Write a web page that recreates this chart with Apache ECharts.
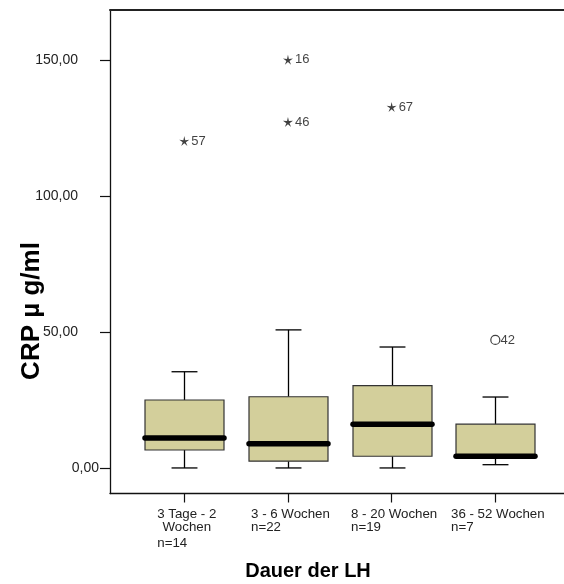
<!DOCTYPE html>
<html>
<head>
<meta charset="utf-8">
<script src="https://cdn.jsdelivr.net/npm/echarts@6/dist/echarts.min.js"></script>
<style>
html,body{margin:0;padding:0;background:#fff;}
#chart{width:564px;height:584px;}
</style>
</head>
<body>
<div id="chart"></div>
<script>
// ---- data ----
var categories = ['3 Tage - 2 Wochen', '3 - 6 Wochen', '8 - 20 Wochen', '36 - 52 Wochen'];
var counts = [14, 22, 19, 7];
var mins    = [0,    0,    0,    1.2];
var q1s     = [6.6,  2.5,  4.3,  4.2];
var medians = [11.0, 8.9,  16.1, 4.3];
var q3s     = [25.0, 26.2, 30.3, 16.1];
var maxs    = [35.4, 50.8, 44.5, 26.1];
// outliers (circle)
var outlierCats   = [4];
var outlierValues = [47.1];
var outlierIds    = ['42'];
// extremes (star)
var extremeCats   = [1, 2, 2, 3];
var extremeValues = [120.3, 150.2, 127.3, 132.8];
var extremeIds    = ['57', '16', '46', '67'];
var yTicks = [0, 50, 100, 150];

// ---- styling ----
var FONT = '"Liberation Sans", Arial, Helvetica, sans-serif';
var BOX_W = 0.762;
var CAP_W = 0.25;
var STAR = 'path://M10 0 L11.8 7.5 L19.51 6.91 L13 11.2 L15.88 18.09 L10 13.2 L4.12 18.09 L7 11.2 L0.51 6.91 L8.2 7.5 Z';

function fmtNum(v) { return v.toFixed(2).replace('.', ','); }

var boxData = categories.map(function (c, i) {
  return [i + 1, mins[i], q1s[i], medians[i], q3s[i], maxs[i]];
});
var outlierData = outlierCats.map(function (c, i) { return [c, outlierValues[i], outlierIds[i]]; });
var extremeData = extremeCats.map(function (c, i) { return [c, extremeValues[i], extremeIds[i]]; });

function renderBox(params, api) {
  var x = api.value(0);
  var lo = api.coord([x, api.value(1)]);
  var q1 = api.coord([x, api.value(2)]);
  var med = api.coord([x, api.value(3)]);
  var q3 = api.coord([x, api.value(4)]);
  var hi = api.coord([x, api.value(5)]);
  var bw = api.size([BOX_W, 0])[0];
  var cw = api.size([CAP_W, 0])[0];
  var cx = Math.round(lo[0]) + 0.5;
  var lineStyle = { stroke: '#000', lineWidth: 1.3 };
  return {
    type: 'group',
    children: [
      { type: 'line', shape: { x1: cx, y1: hi[1], x2: cx, y2: q3[1] }, style: lineStyle },
      { type: 'line', shape: { x1: cx, y1: q1[1], x2: cx, y2: lo[1] }, style: lineStyle },
      { type: 'line', shape: { x1: cx - cw / 2, y1: hi[1], x2: cx + cw / 2, y2: hi[1] }, style: lineStyle },
      { type: 'line', shape: { x1: cx - cw / 2, y1: lo[1], x2: cx + cw / 2, y2: lo[1] }, style: lineStyle },
      { type: 'rect', shape: { x: cx - bw / 2, y: q3[1], width: bw, height: q1[1] - q3[1] },
        style: { fill: '#D3CF9B', stroke: '#333', lineWidth: 1.2 } },
      { type: 'line', shape: { x1: cx - bw / 2, y1: med[1], x2: cx + bw / 2, y2: med[1] },
        style: { stroke: '#000', lineWidth: 5.5, lineCap: 'round' } }
    ]
  };
}

var chart = echarts.init(document.getElementById('chart'), null, { renderer: 'canvas' });
chart.setOption({
  animation: false,
  backgroundColor: '#fff',
  textStyle: { fontFamily: FONT },
  grid: { left: 110, right: 0, top: 10, bottom: 90.5, containLabel: false },
  xAxis: [{
    type: 'value',
    min: 0.2833, max: 4.6626,
    splitLine: { show: false },
    axisLine: { show: true, onZero: false, lineStyle: { color: '#111', width: 1.3 } },
    axisTick: { show: true, length: 9, customValues: [1, 2, 3, 4], lineStyle: { color: '#111', width: 1.2 } },
    axisLabel: {
      show: true,
      customValues: [1, 2, 3, 4],
      margin: 14,
      padding: [0, 0, 0, 5],
      color: '#222',
      fontFamily: FONT,
      fontSize: 13.3,
      formatter: function (v) {
        var i = Math.round(v) - 1;
        if (i === 0) {
          return '{c|3 Tage - 2}\n{c|Wochen}\n{n|n=' + counts[i] + '}';
        }
        return '{l|' + categories[i] + '}\n{l|n=' + counts[i] + '}';
      },
      rich: {
        c: { align: 'center', fontSize: 13.3, lineHeight: 13, color: '#222', fontFamily: FONT },
        l: { align: 'left', fontSize: 13.3, lineHeight: 13, color: '#222', fontFamily: FONT },
        n: { align: 'left', fontSize: 13.3, lineHeight: 19, color: '#222', fontFamily: FONT }
      }
    }
  }, {
    type: 'value',
    position: 'top',
    min: 0.2833, max: 4.6626,
    splitLine: { show: false },
    axisLine: { show: true, onZero: false, lineStyle: { color: '#222', width: 2 } },
    axisTick: { show: false },
    axisLabel: { show: false }
  }],
  yAxis: {
    type: 'value',
    min: -9.4, max: 168.5,
    splitLine: { show: false },
    axisLine: { show: true, onZero: false, lineStyle: { color: '#111', width: 1.3 } },
    axisTick: { show: true, length: 10, customValues: yTicks, lineStyle: { color: '#111', width: 1.2 } },
    axisLabel: {
      show: true,
      customValues: yTicks,
      margin: 11,
      color: '#222',
      fontFamily: FONT,
      fontSize: 14,
      formatter: function (v) {
        if (v === 0) return '{z|' + fmtNum(v) + '}';
        return '{p|' + fmtNum(v) + '}';
      },
      rich: {
        z: { fontSize: 14, color: '#222', fontFamily: FONT },
        p: { fontSize: 14, color: '#222', fontFamily: FONT, padding: [0, 21, 0, 0] }
      }
    }
  },
  graphic: [
    {
      type: 'text',
      x: 32, y: 311,
      rotation: Math.PI / 2,
      style: {
        text: 'CRP \u00B5 g/ml',
        font: 'bold 26px ' + FONT,
        fill: '#000',
        align: 'center',
        verticalAlign: 'middle'
      }
    },
    {
      type: 'text',
      x: 308, y: 571,
      style: {
        text: 'Dauer der LH',
        font: 'bold 20px ' + FONT,
        fill: '#000',
        align: 'center',
        verticalAlign: 'middle'
      }
    }
  ],
  series: [
    {
      type: 'custom',
      renderItem: renderBox,
      data: boxData,
      encode: { x: 0, y: [1, 2, 3, 4, 5] },
      clip: false,
      z: 2
    },
    {
      type: 'scatter',
      data: outlierData,
      symbol: 'circle',
      symbolSize: 9,
      itemStyle: { color: '#fff', borderColor: '#111', borderWidth: 1.2 },
      label: {
        show: true, position: 'right', distance: 0,
        formatter: function (p) { return p.value[2]; },
        color: '#111', fontSize: 13, fontFamily: FONT
      },
      z: 3
    },
    {
      type: 'scatter',
      data: extremeData,
      symbol: STAR,
      symbolSize: 10,
      itemStyle: { color: '#111' },
      label: {
        show: true, position: 'right', distance: 2,
        formatter: function (p) { return p.value[2]; },
        color: '#111', fontSize: 13, fontFamily: FONT
      },
      z: 3
    }
  ]
});
</script>
</body>
</html>
